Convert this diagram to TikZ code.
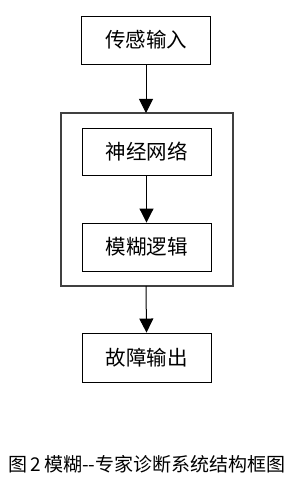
\documentclass[tikz,border=0pt]{standalone}
\usepackage{fontspec}
\newfontfamily\cjk{Noto Sans CJK SC}
\usetikzlibrary{arrows.meta}
\begin{document}
\begin{tikzpicture}[x=1pt,y=-1pt,
  box/.style={draw=black,line width=0.9pt,minimum width=129pt,minimum height=48pt,inner sep=0pt,font=\cjk\fontsize{20.5}{24}\selectfont},
  outer/.style={draw=black!75,line width=1.1pt},
  arr/.style={draw=black,line width=1pt,-{Triangle[width=14pt,length=14pt]}}]
\useasboundingbox (0,0) rectangle (300,484);
\node[box] (in) at (146,40) {传感输入};
\draw[outer] (61,113) rectangle (233,286);
\coordinate (otop) at (146,113);
\coordinate (obot) at (146,286);
\node[box,minimum height=47pt] (nn) at (146.5,151.5) {神经网络};
\node[box] (fl) at (146.5,247) {模糊逻辑};
\node[box,minimum height=49pt] (out) at (146.5,357.5) {故障输出};
\draw[arr] (in.south) -- (otop);
\draw[arr] (nn.south) -- (fl.north);
\draw[arr] (obot) -- (out.north);
\node[anchor=base west,inner sep=0pt,font=\cjk\fontsize{19}{22}\selectfont] (cap) at (8,471) {图\,2\,模糊--专家诊断系统结构框图};
\end{tikzpicture}
\end{document}
